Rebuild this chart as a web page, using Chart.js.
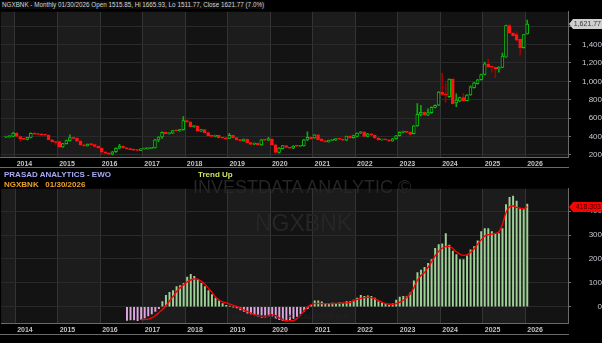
<!DOCTYPE html>
<html>
<head>
<meta charset="utf-8">
<script src="https://cdn.jsdelivr.net/npm/chart.js@4.4.1/dist/chart.umd.min.js"></script>
<style>
  body { margin: 0; background: #000; width: 602px; height: 343px; overflow: hidden; position: relative; font-family: "Liberation Sans", Arial, sans-serif; }
  canvas { position: absolute; left: 0; }
  #top { top: 0; }
  #bot { top: 169px; }
  .t { position: absolute; white-space: nowrap; line-height: 1; }
</style>
</head>
<body>
<canvas id="top" width="602" height="169"></canvas>
<canvas id="bot" width="602" height="174"></canvas>

<div class="t" style="left:1px;top:1px;font-size:6.3px;color:#d4d4d4;background:#0c0c0c;padding:1px 1px;">NGXBNK - Monthly 01/30/2026 Open 1515.85, Hi 1665.93, Lo 1511.77, Close 1621.77 (7.0%)</div>
<div class="t" style="left:193px;top:178px;font-size:18px;color:#262626;">INVESTDATA ANALYTIC ©</div>
<div class="t" style="left:255px;top:212px;font-size:23px;color:#262626;">NGXBNK</div>
<div class="t" style="left:232px;top:313px;font-size:8px;color:#242424;">Dedicated to ... K. BALKRISHNA</div>
<div class="t" style="left:4px;top:171px;font-size:8px;font-weight:bold;color:#a9a9f5;">PRASAD ANALYTICS - EWO</div>
<div class="t" style="left:4px;top:181px;font-size:8px;font-weight:bold;color:#eea22a;">NGXBNK&nbsp;&nbsp;&nbsp;01/30/2026</div>
<div class="t" style="left:198px;top:171px;font-size:8px;font-weight:bold;color:#d2e25e;">Trend Up</div>

<script>
// month slots on the time axis, Sep 2013 .. Dec 2026
const months = [];
for (let y = 2013; y <= 2026; y++) {
  for (let m = 1; m <= 12; m++) {
    if (y === 2013 && m < 9) continue;
    months.push(y + "-" + String(m).padStart(2, "0"));
  }
}

// monthly candles, Oct 2013 .. Jan 2026
const candleStart = "2013-10";
const candleOpen = [395,398,400,
  438,400,374,368,390,434,426,422,418,415,365,342,
  345,288,322,355,388,380,350,308,298,316,312,292,
  275,232,218,208,234,272,296,276,265,258,252,248,
  267,268,271,276,364,395,445,432,436,464,462,474,
  574,558,508,514,458,474,442,408,401,413,386,384,
  380,412,388,365,355,370,334,316,326,308,364,360,
  372,310,228,268,300,280,272,296,294,298,364,391,
  384,417,374,351,341,358,364,378,370,360,404,386,
  400,438,450,400,430,414,384,364,368,364,350,376,
  408,446,456,446,432,516,640,664,632,660,716,740,
  884,864,832,1024,764,784,824,791,851,931,974,1017,
  1074,1184,1157,1151,1137,1151,1264,1607,1524,1507,1457,1367,
  1515.85];
const candleHigh = [402,404,445,
  442,408,382,392,440,440,430,426,422,418,368,350,
  350,326,360,418,392,386,358,318,320,320,315,298,
  278,238,226,238,276,314,298,282,274,264,258,270,
  272,274,280,368,400,450,448,440,468,468,478,618,
  580,568,518,518,478,476,450,415,416,415,392,392,
  434,416,392,370,375,374,338,330,328,368,366,392,
  378,318,280,302,302,284,300,300,302,368,451,395,
  420,420,376,366,360,366,380,380,372,406,408,416,
  440,454,452,434,432,418,392,370,370,366,380,412,
  450,460,458,450,520,757,740,668,700,722,745,888,
  1090,984,1028,1030,864,830,866,855,950,990,1022,1080,
  1208,1241,1160,1156,1160,1307,1612,1624,1530,1540,1462,1512,
  1665.93];
const candleLow = [388,392,397,
  395,350,365,362,384,422,418,414,410,362,340,315,
  278,282,316,350,376,345,302,294,294,308,288,270,
  207,212,205,200,228,265,272,262,255,248,244,245,
  262,262,268,272,345,380,430,425,432,458,455,470,
  552,502,498,455,452,438,405,398,396,383,380,372,
  376,384,362,350,350,330,310,310,305,302,356,356,
  306,220,218,265,276,268,268,290,292,296,356,370,
  380,362,348,338,338,355,356,366,356,356,382,382,
  396,430,396,396,410,380,360,360,362,346,348,372,
  404,440,442,418,428,510,625,628,626,652,712,735,
  848,774,826,755,724,780,788,786,846,926,968,1012,
  1070,1150,1100,1041,1100,1148,1260,1520,1490,1440,1284,1360,
  1511.77];
const candleClose = [398,400,438,
  400,374,368,390,434,426,422,418,415,365,342,335,
  288,322,355,388,380,350,308,298,316,312,292,275,
  232,218,208,234,272,296,276,265,258,252,248,267,
  268,271,276,364,395,445,432,436,464,462,474,574,
  558,508,514,458,474,442,408,401,413,386,384,375,
  412,388,365,355,372,334,314,326,308,364,360,374,
  310,228,274,300,280,272,296,294,298,364,391,374,
  417,364,351,341,358,364,378,370,360,404,386,410,
  438,450,400,430,414,384,364,368,364,350,376,408,
  446,456,444,422,516,640,664,632,660,716,740,884,
  858,852,1024,758,796,824,791,851,941,984,1017,1074,
  1191,1157,1154,1137,1151,1274,1607,1524,1497,1447,1367,1507,
  1621.77];
const priceTicks = [200, 400, 600, 800, 1000, 1200, 1400, 1600];

// Elliott wave oscillator histogram (Aug 2016 ..) and its red signal line (Dec 2016 ..)
const ewoStart = "2016-08";
const ewoValues = [-57,-55,-55,-58,-53,-47,-38,-30,-20,-8,
  22,48,60,68,84,89,98,124,136,127,
  113,98,84,68,51,36,25,13,6,3,
  -1,-5,-13,-20,-27,-30,-34,-41,-45,-44,
  -38,-40,-50,-54,-58,-59,-55,-50,-41,-31,
  -19,-8,6,25,25,20,12,11,15,12,
  16,15,22,22,28,36,48,44,46,44,
  36,22,16,12,7,12,28,40,44,44,
  58,109,143,153,165,182,198,245,260,264,
  306,258,233,218,198,198,213,238,252,276,
  315,327,327,315,306,306,327,428,458,464,
  443,410,407,430];
const signalStart = "2016-12";
const signalValues = [-54,-53,-52,-47,-38,-25,-12,4,24,42,
  64,79,92,104,112,116,115,106,94,77,
  60,41,28,20,16,11,6,1,-6,-14,
  -20,-27,-33,-38,-41,-41,-36,-34,-37,-47,
  -55,-59,-59,-58,-50,-35,-17,-1,9,13,
  14,13,13,13,13,14,14,15,16,18,
  25,31,35,38,40,38,33,26,19,13,
  11,10,13,19,27,40,54,80,111,131,
  143,165,188,213,232,245,252,253,244,230,
  220,215,218,228,243,262,280,296,302,304,
  307,314,345,395,418,422,416,413,411,418.303];
const ewoTicks = [0, 100, 200, 300, 400];

function onAxis(values, start) {
  const s = months.indexOf(start);
  return months.map((_, i) => (i >= s && i - s < values.length) ? values[i - s] : null);
}

const cs = months.indexOf(candleStart);
const bodies = months.map((_, i) => {
  const k = i - cs;
  return (k >= 0 && k < candleOpen.length) ? [candleOpen[k], candleClose[k]] : null;
});
const wicks = months.map((_, i) => {
  const k = i - cs;
  return (k >= 0 && k < candleOpen.length) ? [candleLow[k], candleHigh[k]] : null;
});
const isUp = i => { const k = i - cs; return candleClose[k] >= candleOpen[k]; };

const font = { family: "'Liberation Sans', Arial, sans-serif" };

const yearBands = {
  id: "yearBands",
  beforeDraw(chart) {
    const { ctx, chartArea: a, scales: { x } } = chart;
    const half = (x.getPixelForValue(1) - x.getPixelForValue(0)) / 2;
    ctx.save();
    ctx.fillStyle = "#131313";
    ctx.fillRect(a.left, a.top, a.width, a.height);
    ctx.fillStyle = "#1c1c1c";
    for (let y = 2013; y <= 2026; y += 2) {
      const first = months.findIndex(m => m.startsWith(y + "-"));
      if (first < 0) continue;
      let last = first;
      while (last + 1 < months.length && months[last + 1].startsWith(y + "-")) last++;
      const x0 = Math.max(a.left, x.getPixelForValue(first) - half);
      const x1 = Math.min(a.right, x.getPixelForValue(last) + half);
      ctx.fillRect(x0, a.top, x1 - x0, a.height);
    }
    ctx.restore();
  },
  afterDraw(chart) {
    const { ctx, scales: { x } } = chart;
    ctx.save();
    ctx.strokeStyle = "#6a6a6a";
    ctx.lineWidth = 1;
    ctx.beginPath();
    ctx.moveTo(0, Math.round(x.bottom) - 0.5);
    ctx.lineTo(x.right + 1, Math.round(x.bottom) - 0.5);
    ctx.stroke();
    ctx.restore();
  }
};

function valueTag(color, textColor, text, value) {
  return {
    id: "tag",
    afterDraw(chart) {
      const { ctx, scales: { y } } = chart;
      const py = Math.round(y.getPixelForValue(value));
      const x0 = y.left + 1;
      ctx.save();
      ctx.fillStyle = color;
      ctx.beginPath();
      ctx.moveTo(x0, py);
      ctx.lineTo(x0 + 4, py - 5);
      ctx.lineTo(602, py - 5);
      ctx.lineTo(602, py + 5);
      ctx.lineTo(x0 + 4, py + 5);
      ctx.closePath();
      ctx.fill();
      ctx.fillStyle = textColor;
      ctx.font = "7px 'Liberation Sans', Arial, sans-serif";
      ctx.textAlign = "right";
      ctx.textBaseline = "middle";
      ctx.fillText(text, 601, py + 0.5);
      ctx.restore();
    }
  };
}

function timeAxis(pad) {
  return {
    type: "category",
    offset: true,
    grid: {
      offset: true,
      drawTicks: false,
      color: c => (months[c.index] || "").endsWith("-01") ? "#343434" : "rgba(0,0,0,0)"
    },
    border: { color: "#6a6a6a" },
    ticks: {
      autoSkip: false,
      maxRotation: 0,
      align: "start",
      padding: pad,
      color: "#c4c4c4",
      font: { ...font, size: 7, weight: "bold" },
      callback: (v, i) => months[i].endsWith("-01") ? months[i].slice(0, 4) : ""
    }
  };
}

new Chart(document.getElementById("top"), {
  type: "bar",
  data: {
    labels: months,
    datasets: [
      {
        data: bodies,
        grouped: false,
        barThickness: 3,
        minBarLength: 1,
        borderWidth: 1,
        borderSkipped: false,
        borderColor: c => isUp(c.dataIndex) ? "#0fbf0f" : "#ff1414",
        backgroundColor: c => isUp(c.dataIndex) ? "#0d0d0d" : "#ff1414",
        order: 0
      },
      {
        data: wicks,
        grouped: false,
        barThickness: 1,
        borderWidth: 0,
        backgroundColor: c => isUp(c.dataIndex) ? "#10a810" : "#a00000",
        order: 1
      }
    ]
  },
  options: {
    responsive: false,
    animation: false,
    layout: { padding: 0 },
    plugins: { legend: { display: false }, tooltip: { enabled: false } },
    scales: {
      x: { ...timeAxis(2.5), afterFit: s => { s.height = 10.5; } },
      y: {
        position: "right",
        min: 175,
        max: 1756,
        afterBuildTicks: s => { s.ticks = priceTicks.map(v => ({ value: v })); },
        afterFit: s => { s.width = 34; },
        grid: { color: "#2a2a2a", tickLength: 3, tickColor: "#777" },
        border: { color: "#6a6a6a" },
        ticks: {
          crossAlign: "far",
          padding: 7,
          color: "#c8c8d2",
          font: { ...font, size: 8 },
          callback: v => v.toLocaleString("en-US")
        }
      }
    }
  },
  plugins: [yearBands, valueTag("#cfcfcf", "#3a3a3a", "1,621.77", candleClose[candleClose.length - 1])]
});

const ewoData = onAxis(ewoValues, ewoStart);
const sigData = onAxis(signalValues, signalStart);

new Chart(document.getElementById("bot"), {
  type: "bar",
  data: {
    labels: months,
    datasets: [
      {
        type: "line",
        data: sigData,
        borderColor: "#ff0000",
        borderWidth: 1.4,
        pointRadius: 0,
        tension: 0.4,
        order: 0
      },
      {
        data: ewoData,
        barThickness: 1.3,
        borderWidth: 0,
        backgroundColor: c => (c.raw >= 0 ? "#9ed196" : "#dba6df"),
        order: 1
      }
    ]
  },
  options: {
    responsive: false,
    animation: false,
    layout: { padding: { top: 1, bottom: 6 } },
    plugins: { legend: { display: false }, tooltip: { enabled: false } },
    scales: {
      x: { ...timeAxis(3), afterFit: s => { s.height = 12; } },
      y: {
        position: "right",
        min: -69,
        max: 494,
        afterBuildTicks: s => { s.ticks = ewoTicks.map(v => ({ value: v })); },
        afterFit: s => { s.width = 34; },
        grid: { color: "#2a2a2a", tickLength: 3, tickColor: "#777" },
        border: { color: "#6a6a6a" },
        ticks: {
          crossAlign: "far",
          padding: 15,
          color: "#c8c8d2",
          font: { ...font, size: 8 },
          callback: v => String(v)
        }
      }
    }
  },
  plugins: [yearBands, valueTag("#ff0000", "#3a0000", "418.303", signalValues[signalValues.length - 1])]
});
</script>
</body>
</html>
